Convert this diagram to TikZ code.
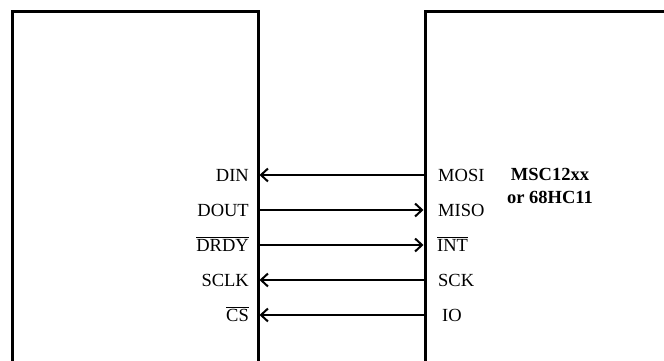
\documentclass[tikz,border=0pt]{standalone}
\usepackage{fontspec}
\setmainfont{Liberation Serif}
\usetikzlibrary{positioning,arrows.meta}

\begin{document}
\begin{tikzpicture}[x=1pt,y=-1pt, every node/.style={font=\fontsize{18.5}{22}\selectfont, inner sep=0pt},
    box/.style={line width=3pt},
    sig/.style={line width=2pt, arrows={-{Straight Barb[length=7pt,width=13pt,line width=2pt]}}}]
        \useasboundingbox (0,0) rectangle (664,361);
        % the two chips
        \draw[box] (12,362) |- (258,12) -- (258,362);
        \draw[box] (425,362) |- (668,12);
        % pins on the chip edges
        \coordinate (ldin) at (259.5,175);\coordinate (rmosi) at (423.5,175);
        \coordinate (ldout) at (259.5,210);\coordinate (rmiso) at (423.5,210);
        \coordinate (ldrdy) at (259.5,245);\coordinate (rint) at (423.5,245);
        \coordinate (lsclk) at (259.5,280);\coordinate (rsck) at (423.5,280);
        \coordinate (lcs) at (259.5,315);\coordinate (rio) at (423.5,315);
        % pin names
        \node[anchor=base east] (din) at (249,181) {DIN};
        \node[anchor=base east] (dout) at (249,216) {DOUT};
        \node[anchor=base east] (drdy) at (249,251) {$\overline{\mbox{DRDY}}$};
        \node[anchor=base east] (sclk) at (249,286) {SCLK};
        \node[anchor=base east] (cs) at (249,321) {$\overline{\mbox{CS}}$};
        \node[anchor=base west] (mosi) at (438,181) {MOSI};
        \node[anchor=base west] (miso) at (438,216) {MISO};
        \node[anchor=base west] (int) at (437,251) {$\overline{\mbox{INT}}$};
        \node[anchor=base west] (sck) at (438,286) {SCK};
        \node[anchor=base west] (io) at (442,321) {IO};
        \node[align=center, font=\fontsize{18.5}{23}\selectfont\bfseries] (mcu) at (550,186) {MSC12xx\\or 68HC11};
        % signals
        \draw[sig] (rmosi)--(ldin);
        \draw[sig] (ldout)--(rmiso);
        \draw[sig] (ldrdy)--(rint);
        \draw[sig] (rsck)--(lsclk);
        \draw[sig] (rio)--(lcs);
      \end{tikzpicture}
\end{document}
